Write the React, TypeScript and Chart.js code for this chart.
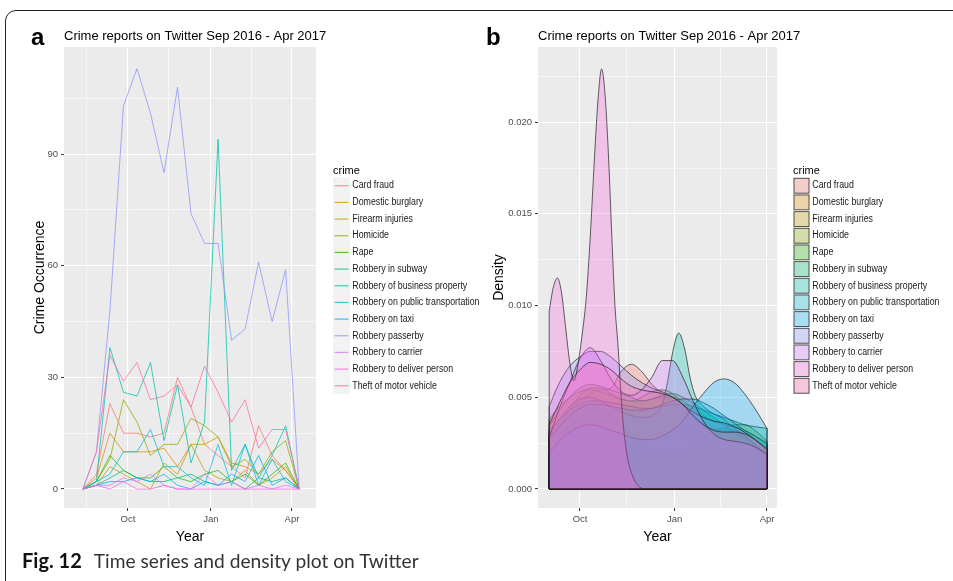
import React, { useEffect, useRef } from "react";
import { Chart, registerables } from "chart.js";

Chart.register(...registerables);

const FONT = '"Liberation Sans", Arial, Helvetica, sans-serif';

// Crime categories (legend order) and their hue palette
const crimes = [
  "Card fraud",
  "Domestic burglary",
  "Firearm injuries",
  "Homicide",
  "Rape",
  "Robbery in subway",
  "Robbery of business property",
  "Robbery on public transportation",
  "Robbery on taxi",
  "Robbery passerby",
  "Robbery to carrier",
  "Robbery to deliver person",
  "Theft of motor vehicle",
];
const crimeColors = [
  "#F8766D", "#E18A00", "#BE9C00", "#8CAB00", "#24B700", "#00BE70", "#00C1AB",
  "#00BBDA", "#00ACFC", "#8B93FF", "#D575FE", "#F962DD", "#FF65AC",
];

// Tweet counts per crime, one value every 15 days
const reportDates = [
  "2016-08-12", "2016-08-27", "2016-09-11", "2016-09-26", "2016-10-11", "2016-10-26",
  "2016-11-10", "2016-11-25", "2016-12-10", "2016-12-25", "2017-01-09", "2017-01-24",
  "2017-02-08", "2017-02-23", "2017-03-10", "2017-03-25", "2017-04-09",
];
const cardFraudCounts = [0, 4, 23, 15, 15, 14, 15, 30, 22, 12, 9, 6, 3, 17, 9, 5, 0];
const domesticBurglaryCounts = [0, 3, 15, 10, 10, 10, 11, 6, 12, 12, 14, 7, 6, 4, 8, 5, 0];
const firearmInjuriesCounts = [0, 1, 6, 4, 2, 0, 7, 4, 12, 5, 3, 2, 5, 1, 3, 6, 0];
const homicideCounts = [0, 2, 8, 24, 18, 9, 12, 12, 19, 17, 14, 6, 8, 4, 10, 13, 0];
const rapeCounts = [0, 2, 9, 5, 3, 3, 6, 3, 2, 4, 5, 2, 4, 1, 4, 7, 0];
const subwayCounts = [0, 1, 3, 5, 3, 2, 2, 3, 4, 2, 1, 2, 0, 3, 2, 3, 0];
const businessPropertyCounts = [0, 2, 38, 26, 25, 34, 13, 28, 7, 18, 94, 5, 12, 3, 9, 17, 0];
const publicTransportCounts = [0, 2, 4, 10, 10, 16, 6, 6, 3, 1, 12, 1, 12, 1, 8, 2, 0];
const taxiCounts = [0, 1, 2, 2, 3, 2, 4, 1, 0, 2, 1, 4, 2, 9, 1, 3, 0];
const passerbyCounts = [0, 10, 48, 103, 113, 101, 85, 108, 74, 66, 66, 40, 43, 61, 45, 59, 0];
const carrierCounts = [0, 1, 1, 3, 2, 4, 1, 0, 0, 4, 1, 2, 0, 1, 0, 1, 0];
const deliverPersonCounts = [0, 1, 0, 2, 0, 0, 1, 0, 0, 0, 0, 0, 0, 0, 0, 0, 0];
const theftCounts = [0, 10, 36, 29, 34, 24, 25, 28, 22, 33, 26, 18, 24, 11, 16, 16, 0];

const occurrenceSeries = [
  cardFraudCounts, domesticBurglaryCounts, firearmInjuriesCounts, homicideCounts, rapeCounts,
  subwayCounts, businessPropertyCounts, publicTransportCounts, taxiCounts, passerbyCounts,
  carrierCounts, deliverPersonCounts, theftCounts,
];

// Kernel density of report dates, sampled at days after 1 Oct 2016
const densityDays = [-30, -20, -10, 0, 10, 20, 30, 40, 50, 60, 70, 80, 90, 100, 110, 120, 130, 140, 150, 160, 170, 182];
const cardFraudDensity = [0.0030, 0.0036, 0.0043, 0.0048, 0.0052, 0.0054, 0.0055, 0.0064, 0.0068, 0.0064, 0.0057, 0.0052, 0.0048, 0.0043, 0.0038, 0.0035, 0.0033, 0.0033, 0.0032, 0.0029, 0.0025, 0.0020];
const domesticBurglaryDensity = [0.0038, 0.0045, 0.0050, 0.0053, 0.0054, 0.0053, 0.0051, 0.0049, 0.0048, 0.0048, 0.0049, 0.0050, 0.0050, 0.0048, 0.0044, 0.0040, 0.0037, 0.0035, 0.0034, 0.0032, 0.0029, 0.0024];
const firearmInjuriesDensity = [0.0019, 0.0027, 0.0034, 0.0039, 0.0042, 0.0042, 0.0039, 0.0034, 0.0029, 0.0024, 0.0020, 0.0018, 0.0018, 0.0020, 0.0024, 0.0028, 0.0031, 0.0032, 0.0031, 0.0028, 0.0024, 0.0018];
const homicideDensity = [0.0026, 0.0034, 0.0043, 0.0051, 0.0055, 0.0055, 0.0052, 0.0049, 0.0048, 0.0050, 0.0053, 0.0054, 0.0052, 0.0046, 0.0039, 0.0034, 0.0032, 0.0033, 0.0035, 0.0035, 0.0032, 0.0026];
const rapeDensity = [0.0034, 0.0043, 0.0050, 0.0055, 0.0057, 0.0056, 0.0054, 0.0052, 0.0050, 0.0048, 0.0049, 0.0051, 0.0052, 0.0050, 0.0047, 0.0043, 0.0039, 0.0035, 0.0031, 0.0027, 0.0022, 0.0017];
const subwayDensity = [0.0032, 0.0038, 0.0043, 0.0046, 0.0048, 0.0048, 0.0047, 0.0046, 0.0045, 0.0044, 0.0044, 0.0045, 0.0046, 0.0046, 0.0045, 0.0043, 0.0041, 0.0039, 0.0037, 0.0035, 0.0034, 0.0033];
const businessDensityDays = [-30, -20, -10, 0, 10, 20, 30, 40, 50, 60, 70, 80, 85, 90, 96, 102, 107, 112, 120, 130, 140, 150, 160, 170, 182];
const businessPropertyDensity = [0.0030, 0.0038, 0.0045, 0.0049, 0.0050, 0.0048, 0.0045, 0.0042, 0.0040, 0.0039, 0.0040, 0.0046, 0.0058, 0.0074, 0.0085, 0.0076, 0.0061, 0.0051, 0.0045, 0.0041, 0.0038, 0.0033, 0.0029, 0.0024, 0.0018];
const publicTransportDensity = [0.0028, 0.0034, 0.0040, 0.0044, 0.0046, 0.0046, 0.0045, 0.0044, 0.0043, 0.0043, 0.0044, 0.0046, 0.0048, 0.0049, 0.0049, 0.0047, 0.0044, 0.0040, 0.0036, 0.0032, 0.0029, 0.0025];
const taxiDensity = [0.0020, 0.0026, 0.0031, 0.0034, 0.0035, 0.0034, 0.0032, 0.0030, 0.0028, 0.0027, 0.0027, 0.0029, 0.0032, 0.0037, 0.0045, 0.0052, 0.0058, 0.0060, 0.0058, 0.0052, 0.0044, 0.0033];
const passerbyDensity = [0.0045, 0.0058, 0.0067, 0.0072, 0.0075, 0.0075, 0.0072, 0.0067, 0.0062, 0.0058, 0.0055, 0.0053, 0.0050, 0.0046, 0.0042, 0.0039, 0.0037, 0.0036, 0.0034, 0.0031, 0.0027, 0.0021];
const carrierDensity = [0.0028, 0.0044, 0.0058, 0.0071, 0.0077, 0.0070, 0.0060, 0.0053, 0.0051, 0.0054, 0.0061, 0.0070, 0.0070, 0.0061, 0.0048, 0.0037, 0.0030, 0.0027, 0.0026, 0.0025, 0.0023, 0.0019];
const deliverDensityDays = [-30, -26, -22, -18, -14, -10, -6, -2, 2, 6, 10, 14, 17.5, 21, 24.5, 28, 31, 34, 37, 40, 43, 47, 52, 58, 65, 90, 120, 150, 182];
const deliverPersonDensity = [0.0097, 0.0110, 0.0115, 0.0107, 0.0088, 0.0069, 0.0059, 0.0068, 0.0084, 0.0104, 0.0138, 0.0180, 0.0212, 0.0229, 0.0214, 0.0178, 0.0137, 0.0100, 0.0078, 0.0050, 0.0030, 0.0015, 0.0006, 0.0001, 0, 0, 0, 0, 0];
const theftDensity = [0.0035, 0.0047, 0.0058, 0.0065, 0.0069, 0.0068, 0.0065, 0.0060, 0.0056, 0.0054, 0.0053, 0.0052, 0.0050, 0.0046, 0.0040, 0.0035, 0.0032, 0.0031, 0.0031, 0.0030, 0.0027, 0.0022];

const densitySeries: [number[], number[]][] = [
  [densityDays, cardFraudDensity],
  [densityDays, domesticBurglaryDensity],
  [densityDays, firearmInjuriesDensity],
  [densityDays, homicideDensity],
  [densityDays, rapeDensity],
  [densityDays, subwayDensity],
  [businessDensityDays, businessPropertyDensity],
  [densityDays, publicTransportDensity],
  [densityDays, taxiDensity],
  [densityDays, passerbyDensity],
  [densityDays, carrierDensity],
  [deliverDensityDays, deliverPersonDensity],
  [densityDays, theftDensity],
];

// Axis breaks
const monthBreaks = ["2016-10-01", "2017-01-01", "2017-04-01"];
const monthLabels = ["Oct", "Jan", "Apr"];
const minorMonthBreaks = ["2016-08-16", "2016-11-15", "2017-02-15"];
const occurrenceTicks = [0, 30, 60, 90];
const occurrenceMinorTicks = [15, 45, 75, 105];
const densityTicks = [0, 0.005, 0.01, 0.015, 0.02];
const densityTickLabels = ["0.000", "0.005", "0.010", "0.015", "0.020"];
const densityMinorTicks = [0.0025, 0.0075, 0.0125, 0.0175, 0.0225];

const ORIGIN = Date.parse("2016-10-01");
const dayOf = (iso: string) => Math.round((Date.parse(iso) - ORIGIN) / 86400000);

function withAlpha(hex: string, a: number) {
  const n = parseInt(hex.slice(1), 16);
  return `rgba(${(n >> 16) & 255},${(n >> 8) & 255},${n & 255},${a})`;
}

type AxisOpts = {
  min: number;
  max: number;
  majors: number[];
  minors: number[];
  label: (v: number) => string;
  size: number;
  horizontal: boolean;
};

function makeAxis(o: AxisOpts) {
  const isMajor = (v: number) => o.majors.some((m) => Math.abs(m - v) < 1e-9);
  return {
    type: "linear",
    min: o.min,
    max: o.max,
    afterBuildTicks: (scale: any) => {
      const all = [...o.majors, ...o.minors]
        .filter((v) => v >= o.min && v <= o.max)
        .sort((a, b) => a - b);
      scale.ticks = all.map((v) => ({ value: v }));
    },
    afterFit: (scale: any) => {
      if (o.horizontal) scale.height = o.size;
      else scale.width = o.size;
    },
    border: { display: false },
    grid: {
      color: "#FFFFFF",
      lineWidth: (c: any) => (c.tick && isMajor(c.tick.value) ? 1.1 : 0.55),
      tickColor: (c: any) => (c.tick && isMajor(c.tick.value) ? "#333333" : "rgba(0,0,0,0)"),
      tickWidth: 1,
      tickLength: 3,
      drawTicks: true,
    },
    ticks: {
      autoSkip: false,
      maxRotation: 0,
      minRotation: 0,
      padding: 3,
      color: "#4D4D4D",
      font: { family: FONT, size: 9.5 },
      callback: (v: number) => (isMajor(v) ? o.label(v) : ""),
    },
  };
}

const monthAxis = (min: number, max: number, size: number) =>
  makeAxis({
    min,
    max,
    majors: monthBreaks.map(dayOf),
    minors: minorMonthBreaks.map(dayOf),
    label: (v) => monthLabels[monthBreaks.map(dayOf).indexOf(v)] ?? "",
    size,
    horizontal: true,
  });

const panelBackground = {
  id: "panelBackground",
  beforeDraw(chart: any) {
    const { ctx, chartArea: a } = chart;
    ctx.save();
    ctx.fillStyle = "#EBEBEB";
    ctx.fillRect(a.left, a.top, a.right - a.left, a.bottom - a.top);
    ctx.restore();
  },
};

// closes each density polygon down to the baseline
const densityEdges = {
  id: "densityEdges",
  afterDatasetDraw(chart: any, args: any) {
    const pts = args.meta.data;
    if (!pts || !pts.length) return;
    const ds = chart.data.datasets[args.index];
    const y0 = chart.scales.y.getPixelForValue(0);
    const ctx = chart.ctx;
    const first = pts[0];
    const last = pts[pts.length - 1];
    ctx.save();
    ctx.strokeStyle = ds.borderColor;
    ctx.lineWidth = ds.borderWidth;
    ctx.beginPath();
    ctx.moveTo(first.x, first.y);
    ctx.lineTo(first.x, y0);
    ctx.lineTo(last.x, y0);
    ctx.lineTo(last.x, last.y);
    ctx.stroke();
    ctx.restore();
  },
};

type Decor = {
  letter: string;
  letterX: number;
  title: string;
  yTitle: string;
  yTitleX: number;
  legendX: number;
  legendKind: "line" | "fill";
};

function decorPlugin(d: Decor) {
  return {
    id: "decor",
    afterDraw(chart: any) {
      const { ctx, chartArea: a } = chart;
      ctx.save();
      ctx.fillStyle = "#000000";
      ctx.textAlign = "left";
      ctx.textBaseline = "alphabetic";
      ctx.font = `bold 24px ${FONT}`;
      ctx.fillText(d.letter, d.letterX, 44.5);
      ctx.font = `13px ${FONT}`;
      ctx.fillText(d.title, a.left, 39.5);

      ctx.font = `14px ${FONT}`;
      ctx.textAlign = "center";
      ctx.textBaseline = "middle";
      ctx.fillText("Year", (a.left + a.right) / 2, 537);
      ctx.save();
      ctx.translate(d.yTitleX, (a.top + a.bottom) / 2);
      ctx.rotate(-Math.PI / 2);
      ctx.fillText(d.yTitle, 0, 0);
      ctx.restore();

      // legend
      const x = d.legendX;
      const keyTop = 177.4;
      const keyH = 16.67;
      const keyW = 17;
      ctx.textAlign = "left";
      ctx.textBaseline = "alphabetic";
      ctx.font = `11px ${FONT}`;
      ctx.fillText("crime", x, 174);
      crimes.forEach((name, i) => {
        const top = keyTop + i * keyH;
        const cy = top + keyH / 2;
        ctx.fillStyle = "#F2F2F2";
        ctx.fillRect(x, top, keyW, keyH);
        if (d.legendKind === "line") {
          ctx.strokeStyle = withAlpha(crimeColors[i], 0.75);
          ctx.lineWidth = 1.2;
          ctx.beginPath();
          ctx.moveTo(x + 1.5, cy);
          ctx.lineTo(x + keyW - 1.5, cy);
          ctx.stroke();
        } else {
          ctx.fillStyle = withAlpha(crimeColors[i], 0.3);
          ctx.fillRect(x + 1, top + 0.9, keyW - 2, keyH - 1.8);
          ctx.strokeStyle = "rgba(40,40,40,0.85)";
          ctx.lineWidth = 0.9;
          ctx.strokeRect(x + 1, top + 0.9, keyW - 2, keyH - 1.8);
        }
        ctx.fillStyle = "#1A1A1A";
        ctx.font = `10px ${FONT}`;
        ctx.textBaseline = "middle";
        ctx.save();
        ctx.translate(x + 19.3, cy);
        ctx.scale(0.88, 1);
        ctx.fillText(name, 0, 0);
        ctx.restore();
        ctx.textBaseline = "alphabetic";
      });
      ctx.restore();
    },
  };
}

function OccurrencePanel() {
  const ref = useRef<HTMLCanvasElement>(null);
  useEffect(() => {
    if (!ref.current) return;
    const xs = reportDates.map(dayOf);
    const datasets = occurrenceSeries.map((vals, i) => ({
      label: crimes[i],
      data: vals.map((v, j) => ({ x: xs[j], y: v })),
      borderColor: withAlpha(crimeColors[i], 0.75),
      borderWidth: 1,
      pointRadius: 0,
      tension: 0,
      fill: false,
      order: crimes.length - 1 - i,
    }));
    const chart = new Chart(ref.current, {
      type: "line",
      data: { datasets },
      options: {
        animation: false,
        responsive: false,
        events: [],
        layout: { padding: { left: 0, top: 47, right: 174, bottom: 0 } },
        plugins: { legend: { display: false }, title: { display: false }, tooltip: { enabled: false } },
        scales: {
          x: monthAxis(-71, 208.7, 52),
          y: makeAxis({
            min: -5.1,
            max: 118.8,
            majors: occurrenceTicks,
            minors: occurrenceMinorTicks,
            label: (v) => String(v),
            size: 64,
            horizontal: false,
          }),
        },
      } as any,
      plugins: [
        panelBackground,
        decorPlugin({
          letter: "a",
          letterX: 31,
          title: "Crime reports on Twitter Sep 2016 - Apr 2017",
          yTitle: "Crime Occurrence",
          yTitleX: 40,
          legendX: 333,
          legendKind: "line",
        }),
      ],
    });
    return () => chart.destroy();
  }, []);
  return (
    <canvas
      ref={ref}
      width={490}
      height={560}
      style={{ position: "absolute", left: 0, top: 0, width: 490, height: 560 }}
    />
  );
}

function DensityPanel() {
  const ref = useRef<HTMLCanvasElement>(null);
  useEffect(() => {
    if (!ref.current) return;
    const datasets = densitySeries.map(([days, vals], i) => ({
      label: crimes[i],
      data: vals.map((v, j) => ({ x: days[j], y: v })),
      borderColor: "rgba(25,25,25,0.85)",
      backgroundColor: withAlpha(crimeColors[i], 0.3),
      borderWidth: 0.8,
      pointRadius: 0,
      cubicInterpolationMode: "monotone",
      fill: "origin",
      order: crimes.length - 1 - i,
    }));
    const chart = new Chart(ref.current, {
      type: "line",
      data: { datasets },
      options: {
        animation: false,
        responsive: false,
        events: [],
        layout: { padding: { left: 0, top: 47, right: 176, bottom: 0 } },
        plugins: {
          legend: { display: false },
          title: { display: false },
          tooltip: { enabled: false },
          filler: { propagate: false },
        },
        scales: {
          x: monthAxis(-40.9, 191.7, 52),
          y: makeAxis({
            min: -0.00104,
            max: 0.0241,
            majors: densityTicks,
            minors: densityMinorTicks,
            label: (v) => densityTickLabels[densityTicks.findIndex((t) => Math.abs(t - v) < 1e-9)] ?? "",
            size: 62,
            horizontal: false,
          }),
        },
      } as any,
      plugins: [
        panelBackground,
        densityEdges,
        decorPlugin({
          letter: "b",
          letterX: 10,
          title: "Crime reports on Twitter Sep 2016 - Apr 2017",
          yTitle: "Density",
          yTitleX: 23,
          legendX: 317,
          legendKind: "fill",
        }),
      ],
    });
    return () => chart.destroy();
  }, []);
  return (
    <canvas
      ref={ref}
      width={477}
      height={560}
      style={{ position: "absolute", left: 476, top: 0, width: 477, height: 560 }}
    />
  );
}

export default function App() {
  return (
    <div
      style={{
        position: "absolute",
        left: 0,
        top: 0,
        width: 953,
        height: 581,
        overflow: "hidden",
        background: "#FFFFFF",
      }}
    >
      <div
        style={{
          position: "absolute",
          left: 5,
          top: 10,
          width: 1100,
          height: 800,
          border: "1.5px solid #222222",
          borderRadius: 11,
          boxSizing: "border-box",
        }}
      />
      <OccurrencePanel />
      <DensityPanel />
      <div
        style={{
          position: "absolute",
          left: 22,
          top: 548,
          fontFamily: "Lato, 'Open Sans', sans-serif",
          lineHeight: "24px",
          color: "#333333",
          whiteSpace: "nowrap",
        }}
      >
        <span style={{ fontWeight: 700, color: "#111111", fontSize: 20 }}>Fig. 12</span>
        <span style={{ fontSize: 19.2, marginLeft: 12 }}>Time series and density plot on Twitter</span>
      </div>
    </div>
  );
}
